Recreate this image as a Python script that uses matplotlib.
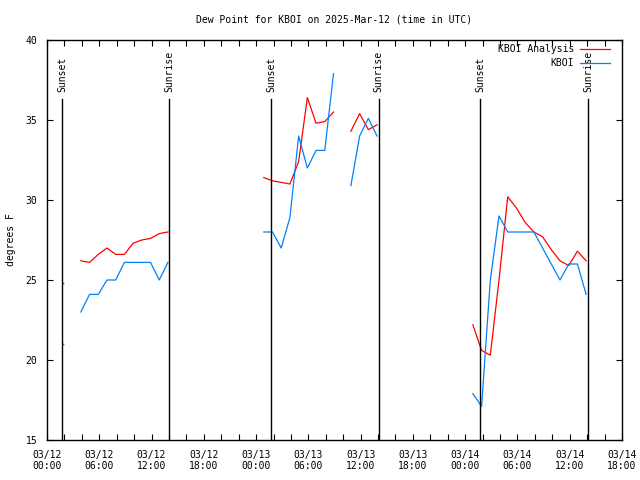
import numpy as np
import pandas as pd
import matplotlib
matplotlib.use("Agg")
import matplotlib.pyplot as plt
import matplotlib.dates as mdates

nan = np.nan
times = pd.date_range("2025-03-12 01:53", periods=61, freq="h")

analysis = [24.8, nan,
            26.2, 26.1, 26.6, 27.0, 26.6, 26.6, 27.3, 27.5, 27.6, 27.9, 28.0,
            nan, nan, nan, nan, nan, nan, nan, nan, nan, nan,
            31.4, 31.2, 31.1, 31.0, 32.4, 36.4, 34.8, 34.9, 35.5,
            nan,
            34.3, 35.4, 34.4, 34.7,
            nan, nan, nan, nan, nan, nan, nan, nan, nan, nan,
            22.2, 20.6, 20.3, 25.0, 30.2, 29.5, 28.6, 28.0, 27.7, 26.9, 26.2, 25.9, 26.8, 26.2]
obs = [21.0, nan,
       23.0, 24.1, 24.1, 25.0, 25.0, 26.1, 26.1, 26.1, 26.1, 25.0, 26.1,
       nan, nan, nan, nan, nan, nan, nan, nan, nan, nan,
       28.0, 28.0, 27.0, 28.9, 34.0, 32.0, 33.1, 33.1, 37.9,
       nan,
       30.9, 34.0, 35.1, 34.0,
       nan, nan, nan, nan, nan, nan, nan, nan, nan, nan,
       17.9, 17.1, 25.0, 29.0, 28.0, 28.0, 28.0, 28.0, 27.0, 26.0, 25.0, 26.0, 26.0, 24.1]

sunsets = ["2025-03-12 01:43", "2025-03-13 01:43", "2025-03-14 01:45"]
sunrises = ["2025-03-12 14:00", "2025-03-13 14:05", "2025-03-14 14:05"]

series_names = ["KBOI Analysis", "KBOI"]
series_colors = ["#ff0000", "#0080ff"]

plt.rcParams['font.family'] = ['DejaVu Sans Mono']
fs = 7

fig = plt.figure(figsize=(6.4, 4.8), dpi=100)
ax = fig.add_axes([47/640, 1-440/480, 575/640, 400/480])

t0 = pd.Timestamp("2025-03-12 00:00")
t1 = pd.Timestamp("2025-03-14 18:00")
ax.set_xlim(t0, t1)
ax.set_ylim(15, 40)

handles = []
for vals, name, col in zip([analysis, obs], series_names, series_colors):
    v = np.array(vals, dtype=float)
    h, = ax.plot(times, v, color=col, lw=0.9, label=name)
    handles.append(h)
    # isolated points (no neighbours) drawn as single dots
    ok = ~np.isnan(v)
    prev_ok = np.r_[False, ok[:-1]]
    next_ok = np.r_[ok[1:], False]
    iso = ok & ~prev_ok & ~next_ok
    ax.plot(times[iso], v[iso], ls='none', marker='s', ms=1.2, mew=0, color=col)

ytop_line = 36.3
for s in sunsets:
    ts = pd.Timestamp(s)
    ax.plot([ts, ts], [15, ytop_line], color='black', lw=1.0)
    ax.text(ts, 36.75, "Sunset", rotation=90, ha='center', va='bottom', fontsize=fs)
for s in sunrises:
    ts = pd.Timestamp(s)
    ax.plot([ts, ts], [15, ytop_line], color='black', lw=1.0)
    ax.text(ts, 36.75, "Sunrise", rotation=90, ha='center', va='bottom', fontsize=fs)

ax.xaxis.set_major_locator(mdates.HourLocator(byhour=range(0, 24, 6)))
ax.xaxis.set_minor_locator(mdates.HourLocator(byhour=range(0, 24, 2)))
ax.xaxis.set_major_formatter(mdates.DateFormatter("%m/%d\n%H:%M"))
ax.set_yticks([15, 20, 25, 30, 35, 40])

ax.tick_params(axis='both', which='both', direction='in', top=True, right=True,
               length=4.5, width=0.8, labelsize=fs)
ax.tick_params(axis='x', which='major', pad=7)
ax.tick_params(axis='y', which='major', pad=7)
for sp in ax.spines.values():
    sp.set_linewidth(1.0)

fig.text(11/640, 1-240/480, "degrees F", rotation=90, ha='center', va='center', fontsize=fs)
fig.text(334/640, 1-19/480, "Dew Point for KBOI on 2025-Mar-12 (time in UTC)",
         ha='center', va='center', fontsize=fs)

leg = ax.legend(handles=handles, loc='upper right', frameon=False, fontsize=fs,
                markerfirst=False, handlelength=3.1, handletextpad=0.6,
                labelspacing=0.45, borderaxespad=0.0, borderpad=0.0,
                bbox_to_anchor=((610-47)/575, 1 - 4/400))
for t in leg.get_texts():
    t.set_ha('right')

fig.savefig("out.png", dpi=100)
